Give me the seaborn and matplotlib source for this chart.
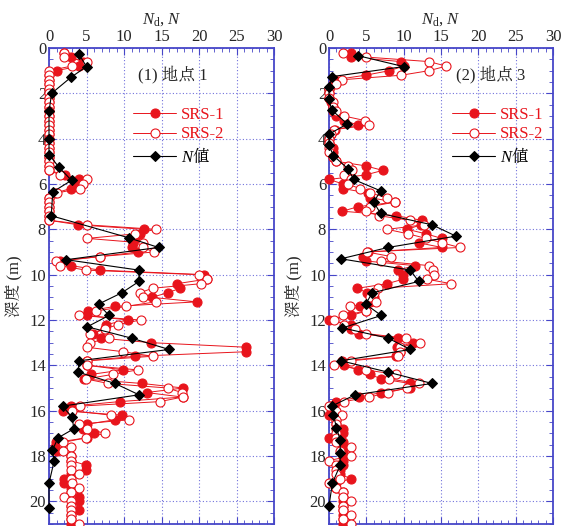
import matplotlib
matplotlib.use("Agg")
import matplotlib.pyplot as plt
import seaborn as sns
from matplotlib.ticker import MultipleLocator

# 深度 (m): SRS 每 0.2 m 一点
depth_srs = [0.2, 0.4, 0.6, 0.8, 1.0, 1.2, 1.4, 1.6, 1.8, 2.0,
             2.2, 2.4, 2.6, 2.8, 3.0, 3.2, 3.4, 3.6, 3.8, 4.0,
             4.2, 4.4, 4.6, 4.8, 5.0, 5.2, 5.4, 5.6, 5.8, 6.0,
             6.2, 6.4, 6.6, 6.8, 7.0, 7.2, 7.4, 7.6, 7.8, 8.0,
             8.2, 8.4, 8.6, 8.8, 9.0, 9.2, 9.4, 9.6, 9.8, 10.0,
             10.2, 10.4, 10.6, 10.8, 11.0, 11.2, 11.4, 11.6, 11.8, 12.0,
             12.2, 12.4, 12.6, 12.8, 13.0, 13.2, 13.4, 13.6, 13.8, 14.0,
             14.2, 14.4, 14.6, 14.8, 15.0, 15.2, 15.4, 15.6, 15.8, 16.0,
             16.2, 16.4, 16.6, 16.8, 17.0, 17.2, 17.4, 17.6, 17.8, 18.0,
             18.2, 18.4, 18.6, 18.8, 19.0, 19.2, 19.4, 19.6, 19.8, 20.0,
             20.2, 20.4, 20.6, 20.8, 21.0]

# 地点 1
srs1_p1 = [2.0, 2.9, 4.5, 4.0, 1.0, 0, 0, 0, 0, 0,
           0, 0, 0, 0, 0, 0, 0, 0, 0, 0,
           0, 0, 0, 0, 0, 0, 0, 2.1, 4.0, 3.5,
           2.9, 0.8, 0, 0, 0, 0, 0, 0, 3.9, 12.7,
           12.1, 11.5, 11.2, 11.0, 11.9, 6.8, 1.5, 2.9, 6.8, 20.6,
           21.0, 17.0, 17.5, 15.8, 13.7, 19.7, 8.8, 5.2, 5.1, 10.5,
           7.6, 7.4, 5.8, 6.9, 13.6, 26.2, 26.3, 11.5, 5.0, 5.1,
           9.9, 5.6, 4.6, 12.4, 17.9, 13.0, 17.8, 9.4, 2.9, 1.8,
           9.7, 8.8, 5.0, 4.5, 6.0, 5.0, 0.9, 0.8, 1.0, 2.9,
           2.9, 4.9, 4.9, 2.9, 2.0, 2.0, 2.9, 2.9, 4.0, 4.0,
           2.9, 4.0, 2.9, 2.9, 2.9]
srs2_p1 = [2.0, 2.0, 5.1, 3.0, 0, 0, 0, 0, 0, 0,
           0, 0, 0, 0, 0, 0, 0, 0, 0, 0,
           0, 0, 0, 0, 0, 0, 0, 1.5, 5.1, 4.5,
           4.1, 1.0, 0, 0, 0, 0, 0, 0, 5.0, 14.2,
           11.5, 5.1, 12.5, 12.5, 14.0, 6.8, 0.9, 1.5, 4.9, 20.0,
           21.0, 20.2, 13.8, 12.1, 12.5, 14.2, 10.3, 6.3, 4.0, 12.2,
           9.2, 7.4, 5.4, 8.0, 5.5, 5.0, 9.9, 13.8, 5.1, 5.1,
           11.8, 8.5, 4.9, 7.9, 15.8, 17.7, 17.8, 14.8, 4.1, 3.0,
           8.3, 10.6, 4.0, 5.0, 7.5, 4.9, 1.9, 2.9, 1.8, 2.9,
           2.9, 2.9, 2.9, 4.0, 2.9, 3.0, 4.0, 2.9, 2.0, 2.9,
           2.9, 2.9, 2.9, 2.9, 4.0]
n_depth_p1 = [0.28, 0.82, 1.3, 2.0, 2.8, 4.0, 4.7, 5.25, 5.84, 6.35, 7.4,
              8.37, 8.8, 9.34, 9.8, 10.3, 10.8, 11.3, 11.8, 12.3, 12.8,
              13.3, 13.8, 14.3, 14.8, 15.3, 15.8, 16.3, 16.8, 17.2, 17.75,
              18.2, 19.2, 20.3]
n_val_p1 = [4.0, 5.0, 2.9, 0.35, 0, 0, 0, 1.3, 3.0, 0.5, 0.3,
            10.6, 14.6, 2.3, 12.0, 12.0, 9.7, 6.6, 8.0, 5.1, 11.0,
            16.0, 4.0, 3.9, 8.8, 12.0, 1.8, 3.1, 3.3, 1.2, 0.45,
            0.7, 0, 0]

# 地点 3
srs1_p3 = [2.9, 2.9, 9.6, 10.0, 8.1, 4.9, 0.8, 0.5, 0, 0,
           0, 0.3, 0.5, 0.5, 1.0, 2.0, 3.9, 0.8, 0.3, 0,
           0, 0.5, 0.5, 0.5, 1.0, 4.9, 7.2, 4.9, 0, 1.9,
           1.9, 5.2, 5.5, 8.8, 3.9, 1.8, 9.0, 12.4, 12.3, 10.5,
           13.0, 15.1, 12.1, 15.1, 5.2, 4.6, 5.0, 11.5, 9.2, 9.9,
           9.9, 7.8, 3.8, 5.1, 6.0, 5.5, 4.1, 5.0, 3.0, 0,
           2.9, 3.0, 4.0, 9.2, 11.3, 9.1, 9.5, 9.0, 1.7, 2.0,
           3.9, 5.5, 7.0, 10.9, 10.9, 7.0, 4.0, 1.0, 0.3, 0.5,
           0, 1.0, 1.0, 1.9, 1.9, 0, 1.9, 1.9, 1.9, 1.9,
           1.9, 1.9, 1.5, 1.5, 2.9, 1.0, 1.0, 1.9, 1.9, 1.9,
           1.9, 1.9, 1.9, 1.9, 1.9]
srs2_p3 = [1.9, 5.0, 13.4, 15.7, 13.4, 9.7, 1.8, 1.0, 0, 0,
           0, 0.5, 0.5, 1.0, 2.0, 4.8, 5.4, 0.7, 0.3, 0,
           0, 0, 0, 0.5, 1.0, 2.5, 3.1, 2.0, 3.0, 2.5,
           4.1, 5.5, 7.8, 8.8, 5.5, 5.0, 6.7, 10.8, 12.7, 7.8,
           10.6, 13.0, 15.2, 17.5, 5.1, 8.3, 7.0, 13.4, 13.9, 14.0,
           13.1, 16.4, 6.5, 6.0, 5.5, 6.3, 2.8, 5.0, 1.9, 0.7,
           2.0, 3.5, 5.0, 10.3, 12.2, 9.5, 9.5, 9.2, 2.9, 0.7,
           4.9, 9.0, 8.0, 12.1, 10.4, 7.9, 5.4, 2.0, 0, 1.0,
           1.7, 1.0, 1.0, 1.0, 1.0, 1.0, 1.0, 2.9, 1.5, 2.9,
           0, 1.0, 1.0, 1.0, 1.5, 0, 0.9, 1.9, 1.9, 2.9,
           1.9, 1.9, 2.9, 1.9, 2.9]
n_depth_p3 = [0.34, 0.82, 1.26, 1.73, 2.25, 2.73, 3.35, 3.8, 4.3, 4.75,
              5.35, 5.8, 6.3, 6.8, 7.3, 7.8, 8.3, 8.8, 9.3, 9.8,
              10.3, 10.8, 11.3, 11.8, 12.35, 12.8, 13.3, 13.8, 14.3, 14.8,
              15.3, 15.8, 16.2, 16.75, 17.3, 17.85, 18.4, 19.2, 20.2]
n_val_p3 = [3.9, 10.0, 0.45, 0, 0, 0.35, 2.45, 0, 0, 0.6,
            2.6, 3.3, 6.9, 6.0, 6.9, 13.8, 17.0, 7.9, 1.6, 10.9,
            12.0, 5.8, 4.9, 7.0, 1.8, 7.9, 10.9, 1.6, 7.9, 13.8,
            3.5, 0.35, 0.6, 1.0, 1.5, 1.5, 1.5, 0.45, 0]

red = '#e8141c'
blue = '#4646c8'
cjk = 'Zen Old Mincho'

sns.set_style("ticks")
plt.rcParams['font.family'] = ['Liberation Serif', cjk, 'Noto Sans CJK JP']
plt.rcParams['mathtext.fontset'] = 'custom'
plt.rcParams['mathtext.rm'] = 'Liberation Serif'
plt.rcParams['mathtext.it'] = 'Liberation Serif:italic'
plt.rcParams['font.size'] = 12


def draw_panel(ax, srs1, srs2, n_depth, n_val, title, title_x, leg_x):
    sns.lineplot(x=srs1, y=depth_srs, sort=False, estimator=None, ax=ax,
                 color=red, linewidth=0.7, marker='o', markersize=6.5,
                 markerfacecolor=red, markeredgecolor=red, markeredgewidth=0.8,
                 label='SRS-1', clip_on=False, zorder=3)
    sns.lineplot(x=srs2, y=depth_srs, sort=False, estimator=None, ax=ax,
                 color=red, linewidth=0.7, marker='o', markersize=6.5,
                 markerfacecolor='white', markeredgecolor=red, markeredgewidth=0.8,
                 label='SRS-2', clip_on=False, zorder=4)
    sns.lineplot(x=n_val, y=n_depth, sort=False, estimator=None, ax=ax,
                 color='black', linewidth=0.8, marker='D', markersize=5,
                 markerfacecolor='black', markeredgecolor='black',
                 label='$N$値', clip_on=False, zorder=5)

    ax.set_xlim(0, 30)
    ax.set_ylim(21, 0)
    ax.xaxis.set_major_locator(MultipleLocator(5))
    ax.xaxis.set_minor_locator(MultipleLocator(1))
    ax.yaxis.set_major_locator(MultipleLocator(2))
    ax.yaxis.set_minor_locator(MultipleLocator(0.5))
    ax.tick_params(which='both', direction='in', color=blue, top=True, bottom=True,
                   left=True, right=True, labeltop=True, labelbottom=False,
                   labelsize=12, pad=2)
    ax.tick_params(which='major', length=5, width=0.8)
    ax.tick_params(which='minor', length=3, width=0.6)
    ax.grid(True, which='major', color='#7272dc', linestyle=(0, (1, 2)), linewidth=0.8)
    for s in ax.spines.values():
        s.set_color(blue)
        s.set_linewidth(1.3)

    ax.xaxis.set_label_position('top')
    ax.set_xlabel('$N_\\mathrm{d}$, $N$', fontsize=12, labelpad=4)
    ax.set_ylabel('深度 (m)', fontsize=12, labelpad=5)

    ax.text(title_x, 0.943, title, transform=ax.transAxes, fontsize=12, va='center')

    leg = ax.legend(loc='upper left', bbox_to_anchor=(leg_x, 0.876), frameon=False,
                    handlelength=2.6, handletextpad=0.3, labelspacing=0.2,
                    borderaxespad=0, borderpad=0, fontsize=12)
    for t, c in zip(leg.get_texts(), [red, red, 'black']):
        t.set_color(c)
    leg.get_texts()[2].set_fontfamily(cjk)


fig = plt.figure(figsize=(5.65, 5.26), dpi=100)
ax1 = fig.add_axes([49 / 565, 2 / 526, 225 / 565, 476 / 526])
ax2 = fig.add_axes([329 / 565, 2 / 526, 224 / 565, 476 / 526])

draw_panel(ax1, srs1_p1, srs2_p1, n_depth_p1, n_val_p1, '(1) 地点 1', 0.396, 0.373)
draw_panel(ax2, srs1_p3, srs2_p3, n_depth_p3, n_val_p3, '(2) 地点 3', 0.567, 0.549)

fig.savefig('out.png', dpi=100)
